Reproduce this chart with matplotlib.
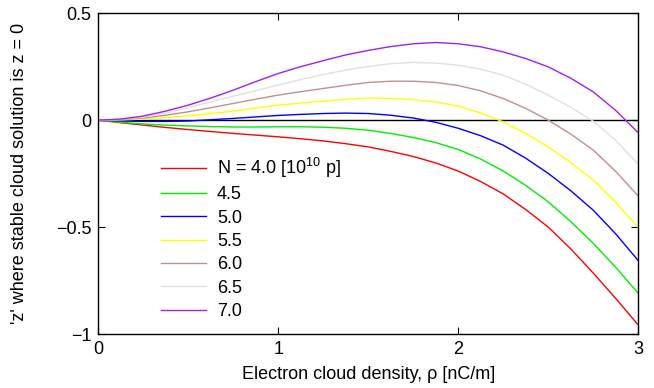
import matplotlib
matplotlib.use("Agg")
import matplotlib.pyplot as plt

plt.rcParams["font.family"] = ["Liberation Sans", "DejaVu Sans"]
plt.rcParams["mathtext.fontset"] = "custom"
plt.rcParams["mathtext.rm"] = "Liberation Sans"

# electron cloud density rho [nC/m]
rho = [0.0, 0.125, 0.25, 0.375, 0.5, 0.625, 0.75, 0.875, 1.0, 1.125, 1.25, 1.375, 1.5,
       1.625, 1.75, 1.875, 2.0, 2.125, 2.25, 2.375, 2.5, 2.625, 2.75, 2.875, 3.0]

# z values, one list per bunch population
z_40 = [0.0, -0.012, -0.023, -0.034, -0.044, -0.053, -0.062, -0.070, -0.078, -0.087, -0.097, -0.110, -0.125,
        -0.146, -0.170, -0.200, -0.238, -0.287, -0.345, -0.418, -0.500, -0.602, -0.715, -0.834, -0.958]
z_45 = [0.0, -0.010, -0.018, -0.023, -0.027, -0.030, -0.032, -0.032, -0.031, -0.031, -0.033, -0.038, -0.047,
        -0.062, -0.081, -0.105, -0.137, -0.182, -0.238, -0.305, -0.382, -0.474, -0.576, -0.688, -0.810]
z_50 = [0.0, -0.004, -0.006, -0.006, -0.004, 0.002, 0.008, 0.015, 0.022, 0.027, 0.031, 0.033, 0.031,
        0.023, 0.010, -0.010, -0.038, -0.073, -0.117, -0.178, -0.249, -0.330, -0.421, -0.532, -0.657]
z_55 = [0.0, 0.001, 0.005, 0.012, 0.020, 0.031, 0.042, 0.056, 0.070, 0.080, 0.089, 0.097, 0.103,
        0.102, 0.096, 0.085, 0.066, 0.033, -0.008, -0.062, -0.125, -0.198, -0.280, -0.385, -0.502]
z_60 = [0.0, 0.003, 0.010, 0.023, 0.039, 0.058, 0.078, 0.098, 0.117, 0.133, 0.148, 0.163, 0.176,
        0.182, 0.182, 0.176, 0.162, 0.137, 0.101, 0.055, 0.000, -0.065, -0.140, -0.240, -0.355]
z_65 = [0.0, 0.004, 0.014, 0.033, 0.059, 0.085, 0.112, 0.138, 0.164, 0.190, 0.213, 0.234, 0.251,
        0.264, 0.270, 0.267, 0.257, 0.238, 0.210, 0.168, 0.117, 0.060, -0.005, -0.095, -0.206]
z_70 = [0.0, 0.005, 0.019, 0.042, 0.070, 0.103, 0.140, 0.180, 0.218, 0.250, 0.278, 0.305, 0.326,
        0.344, 0.357, 0.363, 0.357, 0.343, 0.319, 0.288, 0.249, 0.196, 0.132, 0.045, -0.059]

labels = [r"N = 4.0 [$\mathregular{10^{10}}$ p]", "4.5", "5.0", "5.5", "6.0", "6.5", "7.0"]
series = [z_40, z_45, z_50, z_55, z_60, z_65, z_70]
colors = ["#ff0000", "#00ee00", "#0000ff", "#ffff00", "#c09090", "#e0e0e0", "#a020f0"]

fig = plt.figure(figsize=(6.54, 3.88), dpi=100)
ax = fig.add_axes([0.150, 0.139, 0.826, 0.827])

ax.axhline(0, color="black", lw=1.0, zorder=1)
for z, c, lab in zip(series, colors, labels):
    ax.plot(rho, z, color=c, lw=1.0, label=lab, zorder=2)

ax.set_xlim(0, 3)
ax.set_ylim(-1, 0.5)
ax.set_xticks([0, 1, 2, 3])
ax.set_yticks([-1, -0.5, 0, 0.5])
ax.set_yticklabels(["\u22121", "\u22120.5", "0", "0.5"])
ax.tick_params(direction="in", length=5, width=0.8, top=True, right=True,
               labelsize=13, pad=5)
for s in ax.spines.values():
    s.set_linewidth(1.0)

ax.set_xlabel("Electron cloud density, \u03c1 [nC/m]", fontsize=13, labelpad=6)
ax.set_ylabel("'z' where stable cloud solution is z = 0", fontsize=13, labelpad=20)

ax.legend(loc="upper left", bbox_to_anchor=(0.103, 0.578), frameon=False,
          fontsize=13, handlelength=2.5, handletextpad=0.6, labelspacing=0.35,
          borderaxespad=0)

fig.savefig("out.png", dpi=100)
